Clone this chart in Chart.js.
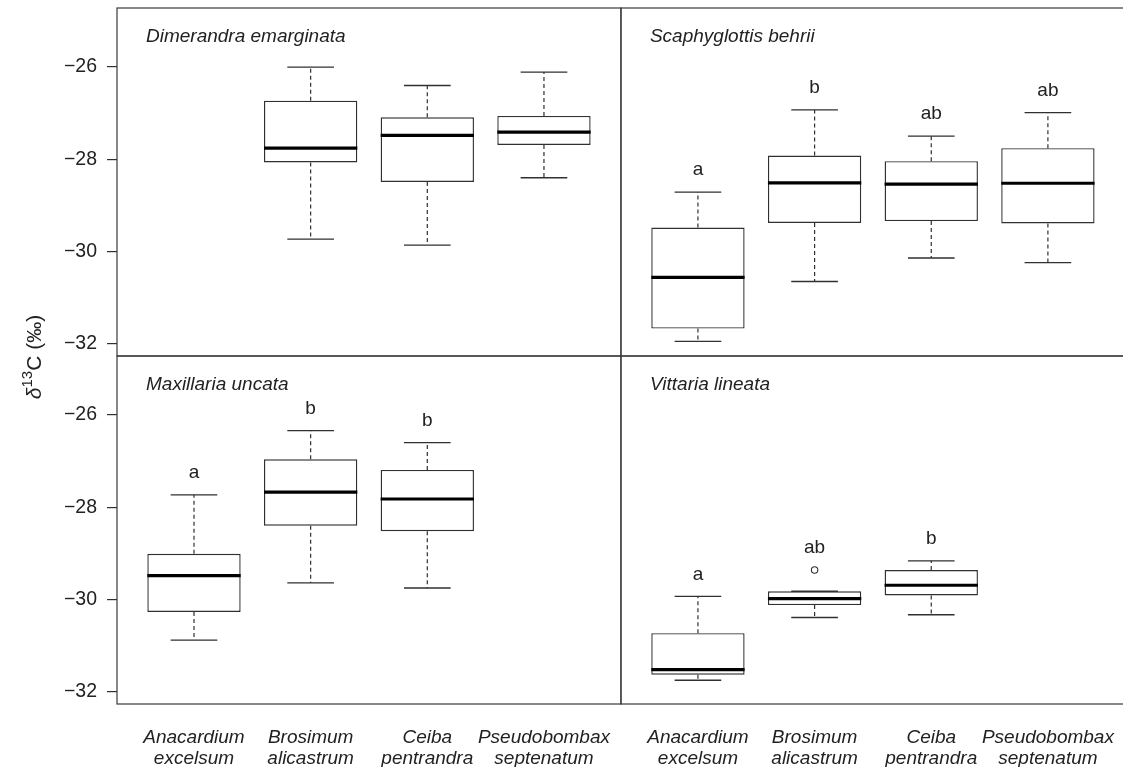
<!DOCTYPE html>
<html>
<head>
<meta charset="utf-8">
<script src="https://cdn.jsdelivr.net/npm/chart.js@4.4.1/dist/chart.umd.min.js"></script>
<style>
  html, body { margin: 0; padding: 0; overflow: hidden; background: #ffffff; }
  canvas { display: block; }
</style>
</head>
<body>
<canvas id="chart" width="1130" height="767"></canvas>
<script>
// Host trees (x categories), drawn as two-line italic labels
const hostLabels = [
  ['Anacardium', 'excelsum'],
  ['Brosimum', 'alicastrum'],
  ['Ceiba', 'pentrandra'],
  ['Pseudobombax', 'septenatum']
];
const hostPositions = [1, 2, 3, 4];
const yTickValues = [-32, -30, -28, -26];
const panelTitles = ['Dimerandra emarginata', 'Scaphyglottis behrii', 'Maxillaria uncata', 'Vittaria lineata'];

// Dimerandra emarginata
const dimerandraLow  = [null, -29.73, -29.86, -28.40];
const dimerandraQ1   = [null, -28.07, -28.49, -27.69];
const dimerandraMed  = [null, -27.76, -27.48, -27.41];
const dimerandraQ3   = [null, -26.73, -27.09, -27.06];
const dimerandraHigh = [null, -26.00, -26.40, -26.11];
const dimerandraLetters = [null, null, null, null];
const dimerandraOutliers = [[], [], [], []];

// Scaphyglottis behrii
const scaphyLow  = [-31.95, -30.65, -30.14, -30.24];
const scaphyQ1   = [-31.67, -29.38, -29.34, -29.39];
const scaphyMed  = [-30.56, -28.51, -28.54, -28.52];
const scaphyQ3   = [-29.48, -27.92, -28.04, -27.76];
const scaphyHigh = [-28.71, -26.93, -27.50, -26.99];
const scaphyLetters = ['a', 'b', 'ab', 'ab'];
const scaphyOutliers = [[], [], [], []];

// Maxillaria uncata
const maxillariaLow  = [-30.88, -29.64, -29.75, null];
const maxillariaQ1   = [-30.27, -28.40, -28.52, null];
const maxillariaMed  = [-29.48, -27.67, -27.82, null];
const maxillariaQ3   = [-29.01, -26.96, -27.19, null];
const maxillariaHigh = [-27.73, -26.34, -26.60, null];
const maxillariaLetters = ['a', 'b', 'b', null];
const maxillariaOutliers = [[], [], [], []];

// Vittaria lineata
const vittariaLow  = [-31.75, -30.39, -30.33, null];
const vittariaQ1   = [-31.63, -30.12, -29.91, null];
const vittariaMed  = [-31.52, -29.98, -29.69, null];
const vittariaQ3   = [-30.73, -29.82, -29.36, null];
const vittariaHigh = [-29.93, -29.82, -29.16, null];
const vittariaLetters = ['a', 'ab', 'b', null];
const vittariaOutliers = [[], [-29.36], [], []];

const FONT = '"Liberation Sans", Arial, Helvetica, sans-serif';
const INK = '#222222';
const LINE = '#303030';

const panels = [
  { title: panelTitles[0], x: 'xL', y: 'yTop', low: dimerandraLow, q1: dimerandraQ1, med: dimerandraMed, q3: dimerandraQ3, high: dimerandraHigh, letters: dimerandraLetters, out: dimerandraOutliers },
  { title: panelTitles[1], x: 'xR', y: 'yTop', low: scaphyLow, q1: scaphyQ1, med: scaphyMed, q3: scaphyQ3, high: scaphyHigh, letters: scaphyLetters, out: scaphyOutliers },
  { title: panelTitles[2], x: 'xL', y: 'yBot', low: maxillariaLow, q1: maxillariaQ1, med: maxillariaMed, q3: maxillariaQ3, high: maxillariaHigh, letters: maxillariaLetters, out: maxillariaOutliers },
  { title: panelTitles[3], x: 'xR', y: 'yBot', low: vittariaLow, q1: vittariaQ1, med: vittariaMed, q3: vittariaQ3, high: vittariaHigh, letters: vittariaLetters, out: vittariaOutliers }
];

// Boxes (interquartile range) as floating bars
const datasets = [];
panels.forEach(p => {
  datasets.push({
    type: 'bar',
    xAxisID: p.x,
    yAxisID: p.y,
    data: hostPositions
      .map((pos, i) => (p.q1[i] === null ? null : { x: pos, y: [p.q1[i], p.q3[i]] }))
      .filter(d => d !== null),
    backgroundColor: '#ffffff',
    borderColor: LINE,
    borderWidth: 1.4,
    borderSkipped: false,
    grouped: false,
    barPercentage: 0.8,
    categoryPercentage: 1.0
  });
  const pts = [];
  p.out.forEach((vals, i) => vals.forEach(v => pts.push({ x: hostPositions[i], y: v })));
  if (pts.length) {
    datasets.push({
      type: 'scatter',
      xAxisID: p.x,
      yAxisID: p.y,
      data: pts,
      pointStyle: 'circle',
      pointRadius: 3.2,
      backgroundColor: '#ffffff',
      borderColor: LINE,
      borderWidth: 1.1
    });
  }
});

// Whiskers, caps, medians and group letters
const boxDetails = {
  id: 'boxDetails',
  afterDatasetsDraw(chart) {
    const ctx = chart.ctx;
    ctx.save();
    panels.forEach(p => {
      const xs = chart.scales[p.x];
      const ys = chart.scales[p.y];
      hostPositions.forEach((pos, i) => {
        if (p.q1[i] === null) return;
        const cx = xs.getPixelForValue(pos);
        const halfBox = (xs.getPixelForValue(pos + 0.4) - xs.getPixelForValue(pos - 0.4)) / 2;
        const halfCap = halfBox / 2;
        const yLow = ys.getPixelForValue(p.low[i]);
        const yQ1 = ys.getPixelForValue(p.q1[i]);
        const yMed = ys.getPixelForValue(p.med[i]);
        const yQ3 = ys.getPixelForValue(p.q3[i]);
        const yHigh = ys.getPixelForValue(p.high[i]);

        ctx.strokeStyle = LINE;
        ctx.lineWidth = 1.2;
        ctx.setLineDash([4, 3]);
        ctx.beginPath();
        ctx.moveTo(cx, yQ1); ctx.lineTo(cx, yLow);
        ctx.moveTo(cx, yQ3); ctx.lineTo(cx, yHigh);
        ctx.stroke();
        ctx.setLineDash([]);
        ctx.lineWidth = 1.3;
        ctx.beginPath();
        ctx.moveTo(cx - halfCap, yLow); ctx.lineTo(cx + halfCap, yLow);
        ctx.moveTo(cx - halfCap, yHigh); ctx.lineTo(cx + halfCap, yHigh);
        ctx.stroke();

        ctx.strokeStyle = '#000000';
        ctx.lineWidth = 3.2;
        ctx.beginPath();
        ctx.moveTo(cx - halfBox, yMed); ctx.lineTo(cx + halfBox, yMed);
        ctx.stroke();

        const letter = p.letters[i];
        if (letter) {
          const top = Math.max(p.high[i], ...p.out[i]);
          ctx.fillStyle = INK;
          ctx.font = '19px ' + FONT;
          ctx.textAlign = 'center';
          ctx.textBaseline = 'middle';
          ctx.fillText(letter, cx, ys.getPixelForValue(top) - 22);
        }
      });
    });
    ctx.restore();
  },
  afterDraw(chart) {
    const ctx = chart.ctx;
    ctx.save();
    // panel frames
    ctx.strokeStyle = '#3a3a3a';
    ctx.lineWidth = 1.2;
    panels.forEach(p => {
      const xs = chart.scales[p.x];
      const ys = chart.scales[p.y];
      ctx.strokeRect(xs.left, ys.top, xs.right - xs.left, ys.bottom - ys.top);
      // species title
      ctx.fillStyle = INK;
      ctx.font = 'italic 19px ' + FONT;
      ctx.textAlign = 'left';
      ctx.textBaseline = 'alphabetic';
      ctx.fillText(p.title, xs.left + 29, ys.top + 34);
    });

    // y-axis title: δ13C (‰)
    ctx.translate(41, 357);
    ctx.rotate(-Math.PI / 2);
    const parts = [
      { t: '\u03B4', f: 'italic 21px ' + FONT, dy: 0 },
      { t: '13', f: '15px ' + FONT, dy: -9 },
      { t: 'C (\u2030)', f: '21px ' + FONT, dy: 0 }
    ];
    let total = 0;
    parts.forEach(pt => { ctx.font = pt.f; pt.w = ctx.measureText(pt.t).width; total += pt.w; });
    let x = -total / 2;
    ctx.fillStyle = INK;
    ctx.textAlign = 'left';
    ctx.textBaseline = 'alphabetic';
    parts.forEach(pt => {
      ctx.font = pt.f;
      ctx.fillText(pt.t, x, pt.dy);
      x += pt.w;
    });
    ctx.restore();
  }
};

function noLabelPadding(s) {
  s.paddingLeft = 0;
  s.paddingRight = 0;
  s.paddingTop = 0;
  s.paddingBottom = 0;
}

function yAxis(weight) {
  return {
    type: 'linear',
    position: 'left',
    stack: 'rows',
    stackWeight: 1,
    weight: weight,
    min: -32.265,
    max: -24.72,
    afterBuildTicks: s => { s.ticks = yTickValues.map(v => ({ value: v })); },
    afterFit: s => { s.width = 117; noLabelPadding(s); },
    border: { display: false },
    grid: { display: true, drawOnChartArea: false, drawTicks: true, tickLength: 10, color: LINE, lineWidth: 1.2 },
    ticks: {
      padding: 10,
      color: INK,
      font: { family: FONT, size: 19.5 },
      callback: v => (v < 0 ? '\u2212' : '') + Math.abs(v)
    }
  };
}

function xAxis(weight) {
  return {
    type: 'linear',
    position: 'bottom',
    stack: 'cols',
    stackWeight: 1,
    weight: weight,
    offset: false,
    min: 0.34,
    max: 4.66,
    afterBuildTicks: s => { s.ticks = hostPositions.map(v => ({ value: v })); },
    afterFit: s => { s.height = 63; noLabelPadding(s); },
    border: { display: false },
    grid: { display: false, drawTicks: false, offset: false },
    ticks: {
      autoSkip: false,
      maxRotation: 0,
      minRotation: 0,
      padding: 23,
      color: INK,
      font: { family: FONT, size: 19, style: 'italic', lineHeight: 1.13 },
      callback: v => hostLabels[hostPositions.indexOf(v)] || ''
    }
  };
}

new Chart(document.getElementById('chart'), {
  type: 'bar',
  data: { datasets },
  options: {
    responsive: false,
    animation: false,
    devicePixelRatio: 1,
    layout: { padding: { left: 0, top: 8, right: 3, bottom: 0 } },
    plugins: { legend: { display: false }, tooltip: { enabled: false } },
    scales: {
      yTop: yAxis(2),
      yBot: yAxis(1),
      xL: xAxis(1),
      xR: xAxis(2)
    }
  },
  plugins: [boxDetails]
});
</script>
</body>
</html>
